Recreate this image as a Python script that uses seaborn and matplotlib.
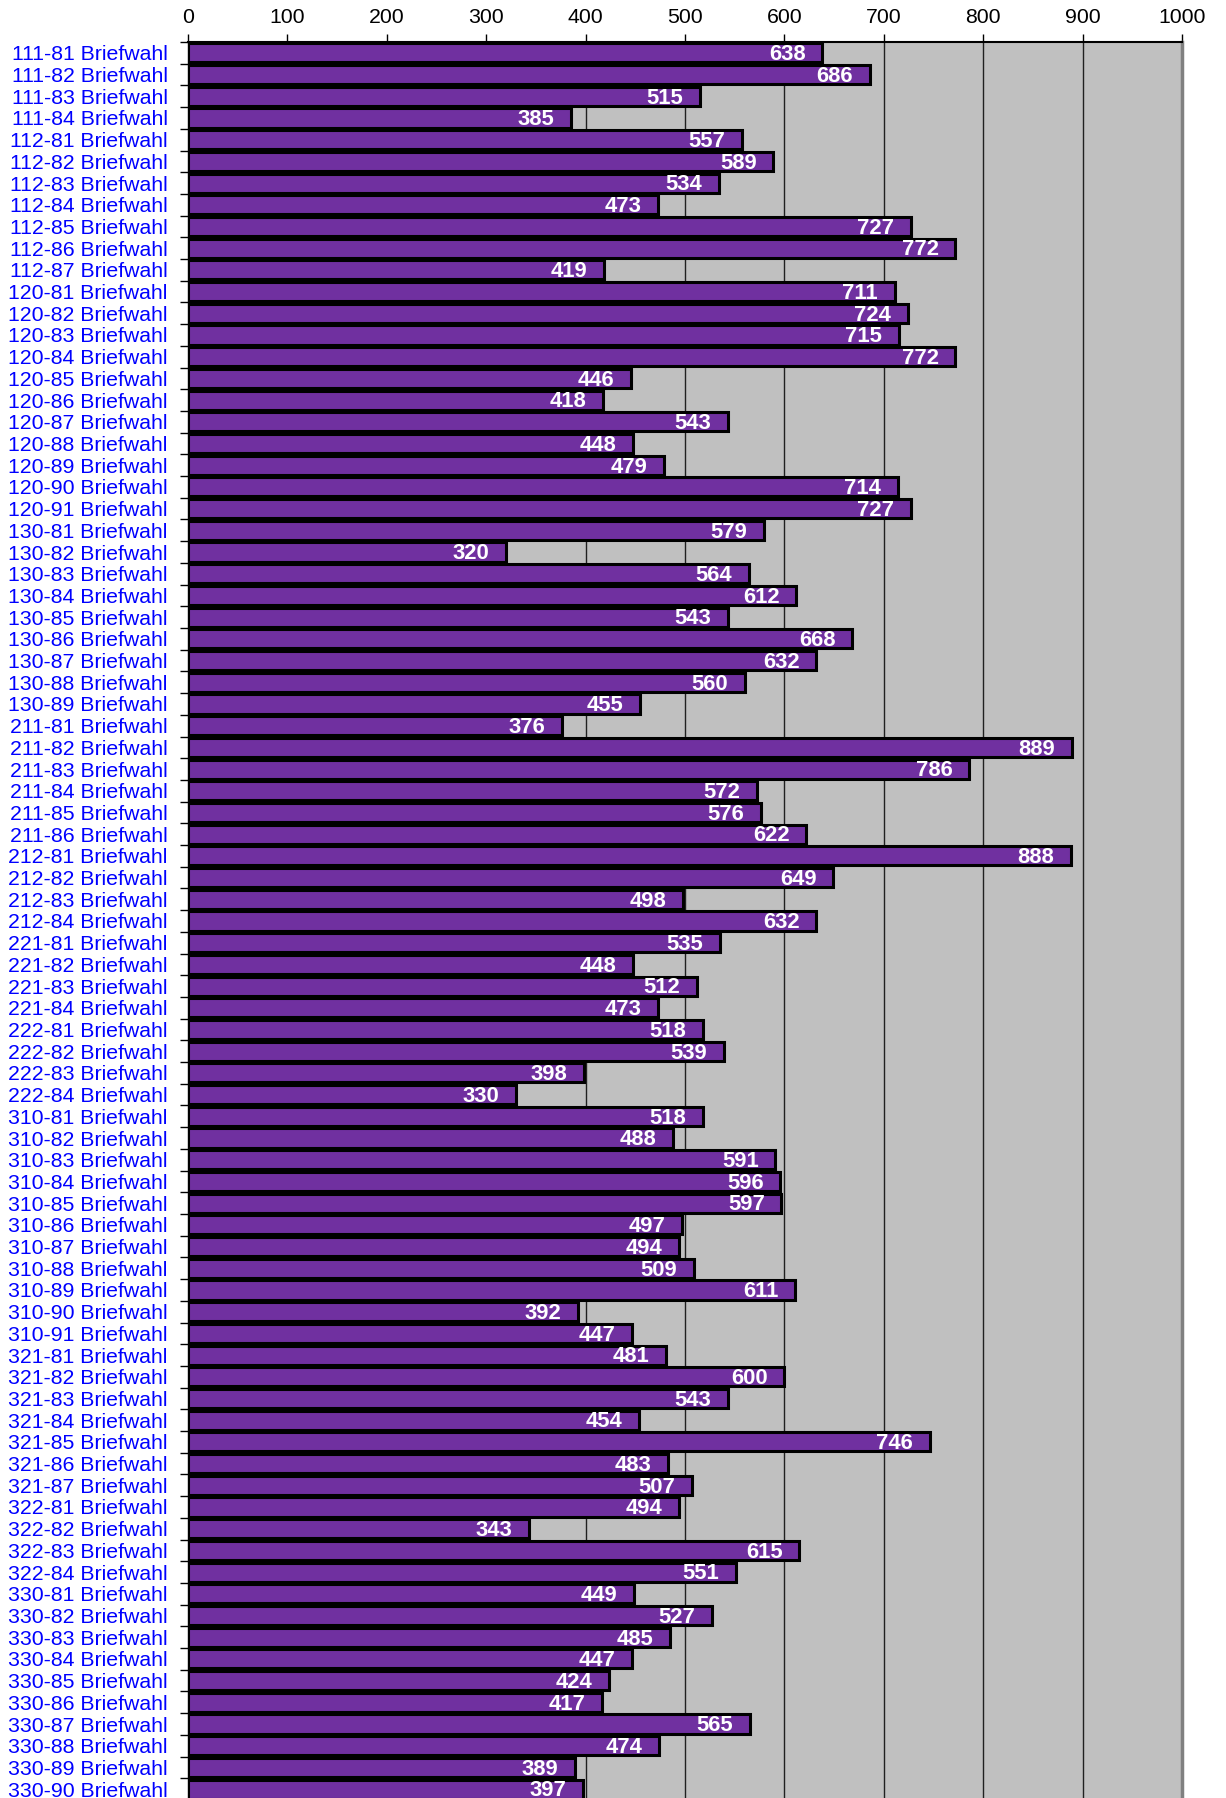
import matplotlib
matplotlib.use('Agg')
import matplotlib.pyplot as plt
import seaborn as sns
import pandas as pd
import numpy as np

precincts = [
    "111-81", "111-82", "111-83", "111-84",
    "112-81", "112-82", "112-83", "112-84", "112-85", "112-86", "112-87",
    "120-81", "120-82", "120-83", "120-84", "120-85", "120-86", "120-87", "120-88", "120-89", "120-90", "120-91",
    "130-81", "130-82", "130-83", "130-84", "130-85", "130-86", "130-87", "130-88", "130-89",
    "211-81", "211-82", "211-83", "211-84", "211-85", "211-86",
    "212-81", "212-82", "212-83", "212-84",
    "221-81", "221-82", "221-83", "221-84",
    "222-81", "222-82", "222-83", "222-84",
    "310-81", "310-82", "310-83", "310-84", "310-85", "310-86", "310-87", "310-88", "310-89", "310-90", "310-91",
    "321-81", "321-82", "321-83", "321-84", "321-85", "321-86", "321-87",
    "322-81", "322-82", "322-83", "322-84",
    "330-81", "330-82", "330-83", "330-84", "330-85", "330-86", "330-87", "330-88", "330-89", "330-90",
]
values = [
    638, 686, 515, 385,
    557, 589, 534, 473, 727, 772, 419,
    711, 724, 715, 772, 446, 418, 543, 448, 479, 714, 727,
    579, 320, 564, 612, 543, 668, 632, 560, 455,
    376, 889, 786, 572, 576, 622,
    888, 649, 498, 632,
    535, 448, 512, 473,
    518, 539, 398, 330,
    518, 488, 591, 596, 597, 497, 494, 509, 611, 392, 447,
    481, 600, 543, 454, 746, 483, 507,
    494, 343, 615, 551,
    449, 527, 485, 447, 424, 417, 565, 474, 389, 397,
]
suffix = "Briefwahl"
labels = [f"{p} {suffix}" for p in precincts]
x_ticks = list(range(0, 1001, 100))

sns.set_theme(style='white')
plt.rcParams['font.family'] = ['Liberation Sans', 'DejaVu Sans']

W, H = 1226, 1798
fig = plt.figure(figsize=(W / 100, H / 100), dpi=100)
fig.patch.set_facecolor('white')
ax = fig.add_axes([188 / W, -2 / H, 994 / W, 1758 / H])
ax.set_facecolor('#C0C0C0')

df = pd.DataFrame({'label': labels, 'value': values})
sns.barplot(data=df, x='value', y='label', orient='h', color='#7030A0',
            saturation=1, edgecolor='black', linewidth=2.2, width=0.88, ax=ax)

ax.set_xlim(0, 1000)
ax.set_ylim(len(labels) - 0.5, -0.5)
ax.set_xlabel('')
ax.set_ylabel('')

ax.xaxis.tick_top()
ax.set_xticks(x_ticks)
ax.set_xticklabels([str(t) for t in x_ticks])
ax.tick_params(axis='x', top=True, bottom=False, labeltop=True, labelbottom=False,
               length=6, width=1, color='black', pad=4.5, labelsize=15.3, labelcolor='black')

ax.set_yticks(range(len(labels)))
ax.set_yticklabels(labels)
ax.tick_params(axis='y', which='major', length=0, pad=14.5, labelsize=15.3, labelcolor='#0000FF')
ax.set_yticks(np.arange(-0.5, len(labels), 1), minor=True)
ax.tick_params(axis='y', which='minor', left=True, length=6, width=1, color='black')

ax.grid(axis='x', color='#202020', linewidth=1)
ax.grid(axis='y', visible=False)
ax.set_axisbelow(True)

ax.spines['top'].set_color('black')
ax.spines['top'].set_linewidth(1.5)
ax.spines['left'].set_color('black')
ax.spines['left'].set_linewidth(1)
ax.spines['right'].set_color('#808080')
ax.spines['right'].set_linewidth(2.5)
ax.spines['bottom'].set_visible(False)

for i, v in enumerate(values):
    ax.annotate(str(v), xy=(v, i), xytext=(-12, -1.3), textcoords='offset points',
                ha='right', va='center', color='white', fontweight='bold', fontsize=15.8)

fig.savefig('out.png', dpi=100)
